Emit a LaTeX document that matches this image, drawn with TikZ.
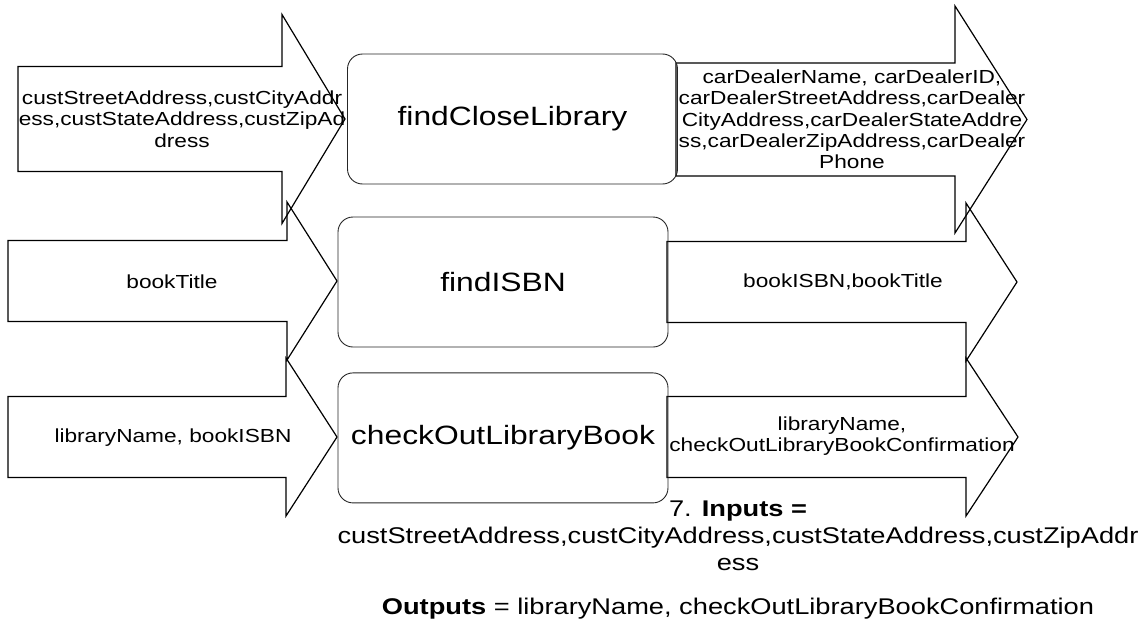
\documentclass[tikz,border=0pt]{standalone}
\usepackage{fontspec}
\setmainfont{Liberation Sans}[FakeStretch=1.2]
\usetikzlibrary{positioning}

\tikzset{
  service/.style={draw=black!85, line width=0.9pt, rounded corners=15pt,
    minimum width=330pt, minimum height=130pt, inner sep=0pt,
    font=\fontsize{26.5}{30}\selectfont},
  flow/.style={draw, line width=1.2pt},
  flowtext/.style={align=center, inner sep=0pt, font=\fontsize{18.9}{21.3}\selectfont}
}

\begin{document}
\begin{tikzpicture}[x=1pt, y=-1pt]
  \useasboundingbox (0,0) rectangle (1144,629);
  % block arrows: tail x / mid y / shaft end / tip / half shaft / half head
  \foreach \xl/\ym/\xs/\xt/\hs/\hh in {18/119/282/345/52.5/104.5, 8/281/287/337/40.5/79,
      8/437/286/337/40.5/79, 676/119.5/955/1027/56.5/113.5,
      667/282/966/1017/40.5/79, 667/437/966/1018/40.5/79}
    \draw[flow] (\xl,\ym-\hs) -- (\xs,\ym-\hs) -- (\xs,\ym-\hh) -- (\xt,\ym)
      -- (\xs,\ym+\hh) -- (\xs,\ym+\hs) -- (\xl,\ym+\hs) -- cycle;

  % services
  \node[service] (findLib) at (512.5,119) {findCloseLibrary};
  \node[service] (findIsbn) at (503,282) {findISBN};
  \node[service, below=25pt of findIsbn] (checkOut) {checkOutLibraryBook};

  % inputs
  \node[flowtext] (in1) at (182,119) {custStreetAddress,custCityAddr\\ess,custStateAddress,custZipAd\\dress};
  \node[flowtext] (in2) at (172,282) {bookTitle};
  \node[flowtext] (in3) at (173,438) {libraryName, bookISBN};

  % outputs
  \node[flowtext] (out1) at (852,119.5) {carDealerName, carDealerID,\\carDealerStreetAddress,carDealer\\CityAddress,carDealerStateAddre\\ss,carDealerZipAddress,carDealer\\Phone};
  \node[flowtext] (out2) at (843,282) {bookISBN,bookTitle};
  \node[flowtext] (out3) at (842,436) {libraryName,\\checkOutLibraryBookConfirmation};

  \node[align=center, inner sep=0pt, anchor=north, font=\fontsize{22.7}{27}\selectfont] (summary) at (738,501)
    {7. \textbf{Inputs =}\\custStreetAddress,custCityAddress,custStateAddress,custZipAddr\\ess\\[17pt]\textbf{Outputs} = libraryName, checkOutLibraryBookConfirmation};
\end{tikzpicture}
\end{document}
